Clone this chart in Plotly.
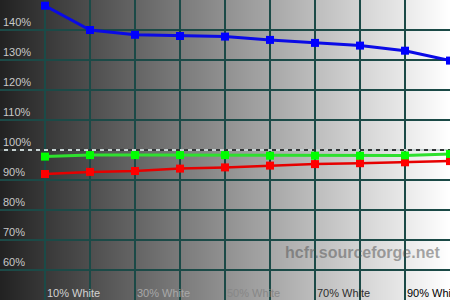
import zlib, struct, base64
import plotly.graph_objects as go

# ---- data ----
PERCENT = [10, 20, 30, 40, 50, 60, 70, 80, 90, 100]
BLUE = [148.1, 140.0, 138.4, 138.0, 137.8, 136.7, 135.7, 134.8, 133.1, 129.8]
GREEN = [97.8, 98.3, 98.3, 98.3, 98.3, 98.1, 98.1, 98.1, 98.2, 98.7]
RED = [92.0, 92.7, 93.0, 93.8, 94.2, 94.8, 95.3, 95.6, 95.9, 96.3]
REFERENCE = 100

X_GRID = [10, 20, 30, 40, 50, 60, 70, 80, 90]
X_TICKS = [10, 30, 50, 70, 90]
X_LABELS = ["10% White", "30% White", "50% White", "70% White", "90% White"]
X_LABEL_COLORS = ["#d2d2d2", "#a8a8a8", "#878787", "#2e2e2e", "#000000"]
Y_TICKS = [60, 70, 80, 90, 100, 110, 120, 130, 140]
Y_LABELS = [f"{v}%" for v in Y_TICKS]

# ---- gradient background as png ----
def gradient_png(width, lo, hi):
    vals = bytes(int(round(lo + (hi - lo) * i / (width - 1))) for i in range(width))
    raw = b"\x00" + vals
    def chunk(t, d):
        c = struct.pack(">I", len(d)) + t + d
        return c + struct.pack(">I", zlib.crc32(t + d) & 0xffffffff)
    ihdr = struct.pack(">IIBBBBB", width, 1, 8, 0, 0, 0, 0)
    png = b"\x89PNG\r\n\x1a\n" + chunk(b"IHDR", ihdr) + chunk(b"IDAT", zlib.compress(raw)) + chunk(b"IEND", b"")
    return "data:image/png;base64," + base64.b64encode(png).decode()

bg = gradient_png(450, 0x22, 0xff)

GRID = "#1b4a47"
FONT = "Liberation Sans, Arial, sans-serif"

fig = go.Figure()

# 100% reference line: alternating white/black dashes
fig.add_trace(go.Scatter(x=[0, 100], y=[REFERENCE, REFERENCE], mode="lines",
                         line=dict(color="#ffffff", width=1.5), hoverinfo="skip"))
fig.add_trace(go.Scatter(x=[0, 100], y=[REFERENCE, REFERENCE], mode="lines",
                         line=dict(color="#000000", width=1.5, dash="4px,4px"), hoverinfo="skip"))

for vals, lc, mc, lw in [(RED, "#e60000", "#ff0000", 2.5),
                         (GREEN, "#2ee02e", "#00ff00", 3),
                         (BLUE, "#0a0ae6", "#0000ff", 3)]:
    fig.add_trace(go.Scatter(x=PERCENT, y=vals, mode="lines+markers",
                             line=dict(color=lc, width=lw),
                             marker=dict(symbol="square", size=8, color=mc, line=dict(width=0))))

fig.add_layout_image(dict(source=bg, xref="x", yref="y", x=0, y=150, sizex=100, sizey=100,
                          sizing="stretch", layer="below"))

# x-axis category labels, left-aligned at their grid line
for xv, label, col in zip(X_TICKS, X_LABELS, X_LABEL_COLORS):
    fig.add_annotation(text=label, x=xv, xref="x", y=0.024, yref="paper",
                       xanchor="left", yanchor="middle", xshift=0, showarrow=False,
                       font=dict(family=FONT, size=11, color=col))

fig.add_annotation(text="<b>hcfr.sourceforge.net</b>", xref="paper", yref="paper",
                   x=0.805, y=0.16, xanchor="center", yanchor="middle", showarrow=False,
                   font=dict(family=FONT, size=16, color="rgba(80,80,80,0.5)"))

fig.update_layout(
    width=450, height=300, autosize=False,
    margin=dict(l=0, r=0, t=0, b=0),
    paper_bgcolor="#222222", plot_bgcolor="#222222",
    showlegend=False,
    font=dict(family=FONT, size=11),
    xaxis=dict(range=[0, 100], tickmode="array", tickvals=X_GRID, showticklabels=False,
               ticks="", showline=False, zeroline=False,
               showgrid=True, gridcolor=GRID, gridwidth=1.5),
    yaxis=dict(range=[50, 150], tickvals=Y_TICKS, ticktext=Y_LABELS,
               ticklabelposition="inside top", ticks="", showline=False, zeroline=False,
               showgrid=True, gridcolor=GRID, gridwidth=1.5,
               tickfont=dict(size=11, color="#c8c8c8")),
)

fig.write_html("out.html")
